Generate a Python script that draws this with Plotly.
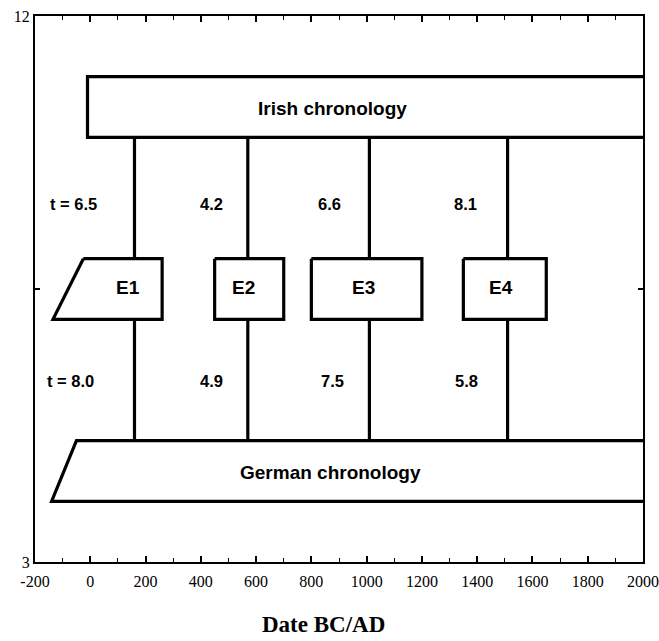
import plotly.graph_objects as go

# ---- data ----
event_names = ["E1", "E2", "E3", "E4"]
event_dates = [160, 570, 1010, 1510]          # connector positions (BC/AD)
event_left = [260, 450, 800, 1350]            # box extents
event_right = [260, 700, 1200, 1650]
t_irish = ["t = 6.5", "4.2", "6.6", "8.1"]
t_german = ["t = 8.0", "4.9", "7.5", "5.8"]
x_ticks = [-200, 0, 200, 400, 600, 800, 1000, 1200, 1400, 1600, 1800, 2000]
x_ticktext = ["-200", "0", "200", "400", "600", "800", "1000", "1200", "1400", "1600", "1800", "2000"]
y_ticks = [3, 7.5, 12]
y_ticktext = ["3", "", "12"]

# ---- layout helpers (positions) ----
irish_y = (10, 11)
german_y = (4, 5)
event_y = (7, 8)
irish_lbl_x = [-62, 437, 867, 1359]
german_lbl_x = [-70, 440, 875, 1363]
event_lbl_x = [136, 553, 987, 1486]

LW = 3.2
fig = go.Figure()

def poly(xs, ys, w=LW):
    fig.add_trace(go.Scatter(x=xs, y=ys, mode="lines",
                             line=dict(color="black", width=w),
                             hoverinfo="skip", showlegend=False))

# Irish chronology box (extends past right edge)
poly([2150, -10, -10, 2150], [irish_y[1], irish_y[1], irish_y[0], irish_y[0]])
# German chronology box (slanted left edge)
poly([2150, -50, -140, 2150], [german_y[1], german_y[1], german_y[0], german_y[0]])

# Event boxes
for i, name in enumerate(event_names):
    if i == 0:
        xs = [-25, event_right[0], event_right[0], -135, -25]
    else:
        xs = [event_left[i], event_right[i], event_right[i], event_left[i], event_left[i]]
    ys = [event_y[1], event_y[1], event_y[0], event_y[0], event_y[1]]
    poly(xs, ys)
    # connectors
    poly([event_dates[i], event_dates[i]], [irish_y[0], event_y[1]])
    poly([event_dates[i], event_dates[i]], [event_y[0], german_y[1]])

num_font = dict(family="Liberation Sans, Arial", size=16.5, color="black")
big_font = dict(family="Liberation Sans, Arial", size=19, color="black")

annotations = []
for i in range(4):
    annotations.append(dict(x=irish_lbl_x[i], y=8.9, text="<b>%s</b>" % t_irish[i],
                            showarrow=False, font=num_font))
    annotations.append(dict(x=german_lbl_x[i], y=5.98, text="<b>%s</b>" % t_german[i],
                            showarrow=False, font=num_font))
    annotations.append(dict(x=event_lbl_x[i], y=7.52, text="<b>%s</b>" % event_names[i],
                            showarrow=False, font=big_font))
annotations.append(dict(x=878, y=10.48, text="<b>Irish chronology</b>",
                        showarrow=False, font=big_font))
annotations.append(dict(x=871, y=4.48, text="<b>German chronology</b>",
                        showarrow=False, font=big_font))
# axis title
annotations.append(dict(xref="paper", yref="paper", x=0.475, y=-0.115, yanchor="middle",
                        text="<b>Date BC/AD</b>", showarrow=False,
                        font=dict(family="Liberation Serif, Times New Roman", size=23, color="black")))

fig.update_layout(
    width=659, height=641,
    margin=dict(l=35, r=16, t=16, b=79),
    paper_bgcolor="white", plot_bgcolor="white",
    annotations=annotations,
    xaxis=dict(range=[-200, 2000], tickvals=x_ticks, ticktext=x_ticktext, automargin=False,
               ticks="inside", ticklen=6, tickwidth=1.5, tickcolor="black",
               minor=dict(dtick=100, ticks="inside", ticklen=4, tickwidth=1.2, tickcolor="black"),
               showline=True, linecolor="black", linewidth=2, mirror="allticks",
               showgrid=False, zeroline=False, ticklabeloverflow="allow",
               tickfont=dict(family="Liberation Serif, Times New Roman", size=16, color="black"),
               ticklabelstandoff=4),
    yaxis=dict(range=[3, 12], tickvals=y_ticks, ticktext=y_ticktext, automargin=False,
               ticks="inside", ticklen=5, tickwidth=1.5, tickcolor="black",
               showline=True, linecolor="black", linewidth=2, mirror="allticks",
               showgrid=False, zeroline=False, ticklabeloverflow="allow",
               tickfont=dict(family="Liberation Serif, Times New Roman", size=16, color="black")),
)

# remove the default page margin so the figure fills the window exactly
fig.write_html("out.html", config={"displayModeBar": False},
               post_script="document.body.style.margin='0px';document.body.style.overflow='hidden';")
